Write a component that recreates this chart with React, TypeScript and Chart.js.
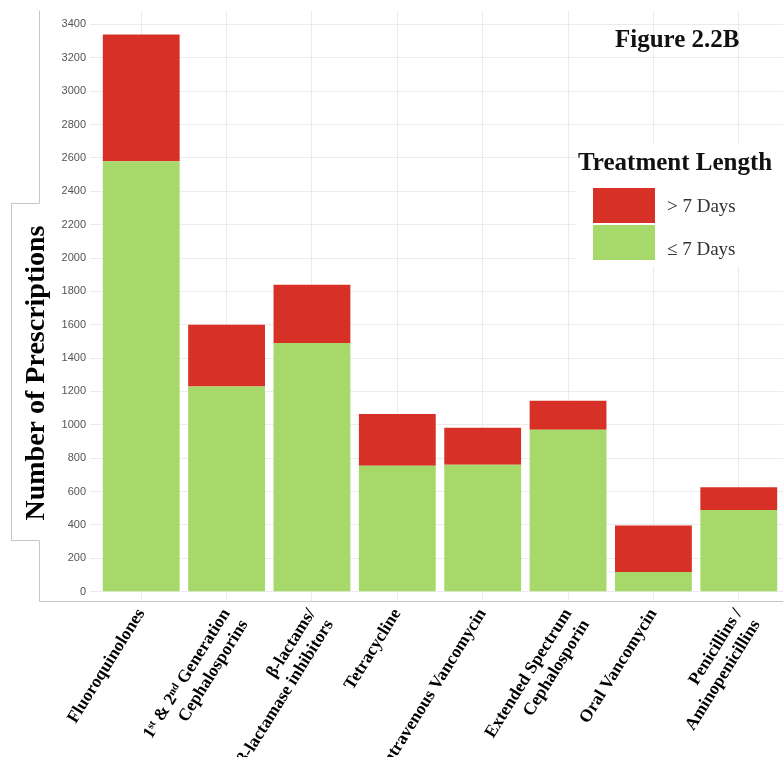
import React, { useEffect, useRef } from 'react';
import { Chart, registerables } from 'chart.js';

Chart.register(...registerables);

// ---- Data ----
const CATEGORIES: (string | string[])[] = [
  'Fluoroquinolones',
  ['1ˢᵗ & 2ⁿᵈ Generation', 'Cephalosporins'],
  ['β-lactams/', 'β-lactamase inhibitors'],
  'Tetracycline',
  'Intravenous Vancomycin',
  ['Extended Spectrum', 'Cephalosporin'],
  'Oral Vancomycin',
  ['Penicillins /', 'Aminopenicillins'],
];
const SHORT_LABEL = '≤ 7 Days';
const LONG_LABEL = '> 7 Days';
const SHORT_VALUES = [2580, 1230, 1490, 755, 760, 970, 118, 490];
const LONG_VALUES = [760, 370, 350, 310, 222, 175, 278, 136];
const Y_TICKS = [0, 200, 400, 600, 800, 1000, 1200, 1400, 1600, 1800, 2000, 2200, 2400, 2600, 2800, 3000, 3200, 3400];
const TITLE = 'Figure 2.2B';
const Y_TITLE = 'Number of Prescriptions';
const LEGEND_TITLE = 'Treatment Length';

const GREEN = '#a6d96a';
const RED = '#d73027';
const SERIF = '"Liberation Serif", "Times New Roman", "DejaVu Serif", serif';
const SANS = '"Liberation Sans", Arial, sans-serif';

const decorPlugin = {
  id: 'decor',
  afterDraw(chart: any) {
    const ctx = chart.ctx as CanvasRenderingContext2D;
    const area = chart.chartArea;
    ctx.save();
    // panel border with the y-title notch
    ctx.strokeStyle = '#c6c6c6';
    ctx.lineWidth = 1;
    ctx.beginPath();
    ctx.moveTo(39.5, area.top);
    ctx.lineTo(39.5, 203.5);
    ctx.lineTo(11.5, 203.5);
    ctx.lineTo(11.5, 540.5);
    ctx.lineTo(39.5, 540.5);
    ctx.lineTo(39.5, area.bottom + 0.5);
    ctx.lineTo(area.right, area.bottom + 0.5);
    ctx.stroke();

    // y title
    ctx.save();
    ctx.translate(43.5, 373);
    ctx.rotate(-Math.PI / 2);
    ctx.font = `bold 28px ${SERIF}`;
    ctx.fillStyle = '#000';
    ctx.textAlign = 'center';
    ctx.textBaseline = 'alphabetic';
    ctx.fillText(Y_TITLE, 0, 0);
    ctx.restore();

    // figure title
    ctx.font = `bold 25px ${SERIF}`;
    ctx.fillStyle = '#111';
    ctx.textAlign = 'left';
    ctx.textBaseline = 'alphabetic';
    ctx.fillText(TITLE, 615, 47);

    // legend
    ctx.fillStyle = '#fff';
    ctx.fillRect(577, 145, 220, 121);
    ctx.fillStyle = '#111';
    ctx.font = `bold 25px ${SERIF}`;
    ctx.fillText(LEGEND_TITLE, 578, 170);
    const ds = chart.data.datasets.slice().reverse();
    const boxTops = [188, 225];
    const baselines = [212, 255];
    ds.forEach((d: any, i: number) => {
      ctx.fillStyle = d.backgroundColor;
      ctx.fillRect(593, boxTops[i], 62, 35);
      ctx.fillStyle = '#333';
      ctx.font = `19px ${SERIF}`;
      ctx.fillText(d.label, 667, baselines[i]);
    });
    ctx.restore();
  },
};

export default function App() {
  const ref = useRef<HTMLCanvasElement>(null);
  useEffect(() => {
    const chart = new Chart(ref.current!, {
      type: 'bar',
      data: {
        datasets: [
          {
            label: SHORT_LABEL,
            data: SHORT_VALUES.map((v, i) => ({ x: i, y: v })),
            backgroundColor: GREEN,
            barPercentage: 0.9,
            categoryPercentage: 1,
          },
          {
            label: LONG_LABEL,
            data: LONG_VALUES.map((v, i) => ({ x: i, y: v })),
            backgroundColor: RED,
            barPercentage: 0.9,
            categoryPercentage: 1,
          },
        ],
      },
      options: {
        responsive: false,
        animation: false,
        devicePixelRatio: 1,
        events: [],
        layout: { padding: { top: 10, left: 0, right: 0, bottom: 0 } },
        plugins: {
          legend: { display: false },
          title: { display: false },
          tooltip: { enabled: false },
        },
        scales: {
          x: {
            type: 'linear',
            stacked: true,
            offset: false,
            min: -0.6,
            max: CATEGORIES.length - 0.4,
            afterBuildTicks: (scale: any) => {
              scale.ticks = CATEGORIES.map((_, i) => ({ value: i }));
            },
            afterFit: (scale: any) => {
              scale.height = 156;
            },
            grid: { color: '#ebebeb', lineWidth: 1, drawTicks: false, offset: false },
            border: { display: false },
            ticks: {
              autoSkip: false,
              minRotation: 58,
              maxRotation: 58,
              padding: 4,
              color: '#000',
              font: { family: SERIF, size: 17.5, weight: 'bold' },
              callback: (v: any) => CATEGORIES[v as number],
            },
          },
          y: {
            type: 'linear',
            stacked: true,
            min: -56,
            max: 3483,
            afterBuildTicks: (scale: any) => {
              scale.ticks = Y_TICKS.map((v) => ({ value: v }));
            },
            afterFit: (scale: any) => {
              scale.width = 90;
            },
            grid: { color: '#ebebeb', lineWidth: 1, drawTicks: false },
            border: { display: false },
            ticks: {
              padding: 4,
              color: '#555',
              font: { family: SANS, size: 11 },
              callback: (v: any) => String(v),
            },
          },
        },
      },
      plugins: [decorPlugin],
    } as any);
    return () => chart.destroy();
  }, []);
  return (
    <div
      style={{
        position: 'absolute',
        left: 0,
        top: 0,
        width: 783,
        height: 757,
        overflow: 'hidden',
        background: '#fff',
      }}
    >
      <canvas ref={ref} width={790} height={757} style={{ display: 'block', width: 790, height: 757 }} />
    </div>
  );
}
